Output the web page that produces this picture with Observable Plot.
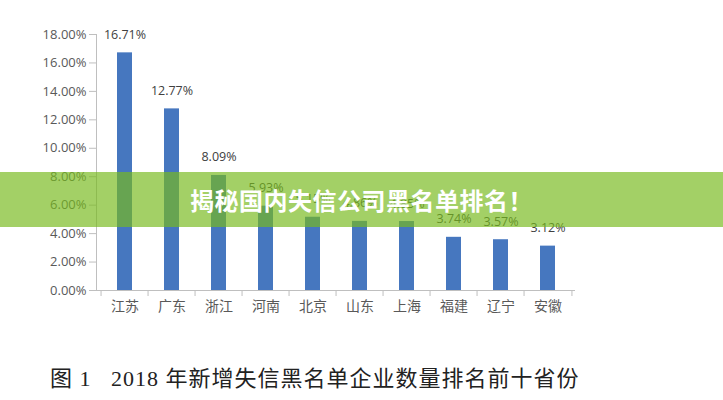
<!DOCTYPE html>
<html>
<head>
<meta charset="utf-8">
<script src="https://cdn.jsdelivr.net/npm/d3@7"></script>
<script src="https://cdn.jsdelivr.net/npm/@observablehq/plot@0.6"></script>
<style>
  html, body { margin: 0; padding: 0; background: #fff; }
  #wrap { position: relative; width: 723px; height: 400px; overflow: hidden; background: #fff; }
  #banner {
    position: absolute; left: 0; top: 172px; width: 723px; height: 55px;
    background: rgba(120, 185, 30, 0.68);
    color: #fff; font: bold 24px "Noto Sans CJK SC", sans-serif;
    display: flex; align-items: center; justify-content: center; letter-spacing: 0.5px;
  }
  #caption {
    height: 55px; box-sizing: border-box; padding-left: 50px; padding-top: 15px;
    font: 22px "Liberation Serif", "Noto Sans CJK SC", serif; color: #222; letter-spacing: 1px; white-space: pre;
  }
</style>
</head>
<body>
<div id="wrap">
  <div id="chart"></div>
  <div id="caption"></div>
  <div id="banner"></div>
</div>
<script>
const provinces = ["江苏", "广东", "浙江", "河南", "北京", "山东", "上海", "福建", "辽宁", "安徽"];
const shares = [16.71, 12.77, 8.09, 5.93, 5.15, 4.86, 4.85, 3.74, 3.57, 3.12];
const yTicks = [0, 2, 4, 6, 8, 10, 12, 14, 16, 18];
const bannerText = "揭秘国内失信公司黑名单排名！";
const captionText = "图 1   2018 年新增失信黑名单企业数量排名前十省份";

const data = provinces.map((p, i) => ({province: p, share: shares[i]}));

const W = 723, ML = 96, MR = 148;
const step = (W - ML - MR) / provinces.length;
const grey = "#bfbfbf";

const chart = Plot.plot({
  width: W,
  height: 345,
  marginLeft: ML,
  marginRight: MR,
  marginTop: 34,
  marginBottom: 55,
  style: {fontFamily: "'Open Sans', 'Noto Sans CJK SC', sans-serif", background: "#fff"},
  x: {domain: provinces, paddingInner: 0.69, paddingOuter: 0.345},
  y: {domain: [0, 18]},
  marks: [
    Plot.frame({anchor: "left", stroke: grey}),
    Plot.ruleY([0], {stroke: grey}),
    Plot.ruleX(provinces, {x: d => d, dx: -step / 2, y1: () => 0, y2: () => 0, insetTop: 0, insetBottom: -6, stroke: grey}),
    Plot.ruleX([provinces[provinces.length - 1]], {x: d => d, dx: step / 2, y1: () => 0, y2: () => 0, insetTop: 0, insetBottom: -6, stroke: grey}),
    Plot.barY(data, {x: "province", y: "share", fill: "#4677bf"}),
    Plot.text(data, {x: "province", y: "share", text: d => d.share.toFixed(2) + "%", dy: -18, fontSize: 12.5, fill: "#404040"}),
    Plot.axisY({ticks: yTicks, tickSize: 7, tickPadding: 3, tickFormat: d => d.toFixed(2) + "%", fontSize: 13, stroke: grey, fill: "#595959", label: null}),
    Plot.axisX({tickSize: 0, tickPadding: 11, fontSize: 14, fill: "#595959", label: null, fontFamily: "'Noto Sans CJK SC', sans-serif"})
  ]
});
document.getElementById("chart").append(chart);
document.getElementById("banner").textContent = bannerText;
document.getElementById("caption").textContent = captionText;
</script>
</body>
</html>
